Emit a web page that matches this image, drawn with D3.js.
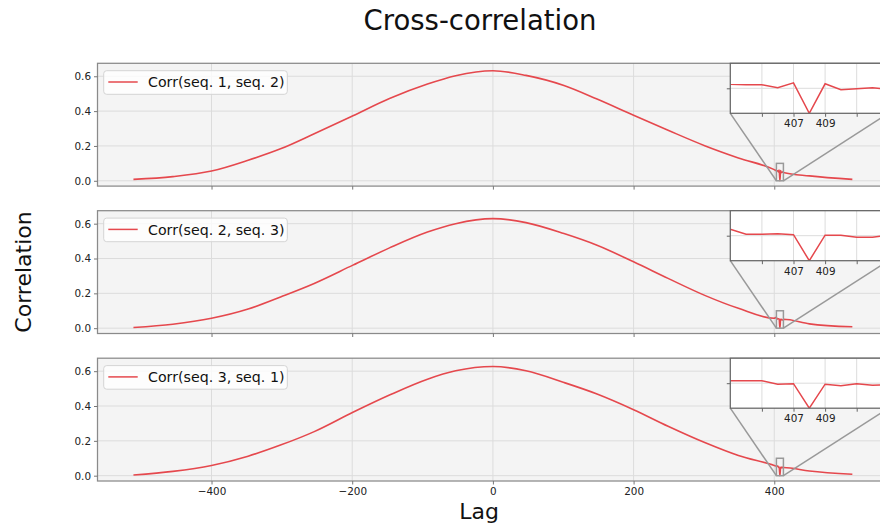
<!DOCTYPE html>
<html>
<head>
<meta charset="utf-8">
<script src="https://cdn.jsdelivr.net/npm/d3@7"></script>
<style>
  body { margin: 0; background: #fff; }
  svg { display: block; font-family: "DejaVu Sans", sans-serif; }
</style>
</head>
<body>
<svg width="880" height="527"></svg>
<script>
// lags (dense around the zoomed window 403..413)
var lags = [-511, -455, -400, -348, -301, -254, -199, -147, -93, -53,
            0, 47, 101, 148, 200, 249, 302, 349, 400,
            403, 404, 405, 406, 407, 408, 409, 410, 411, 412, 413,
            450, 511];

var corr12 = [0.008, 0.024, 0.056, 0.118, 0.185, 0.270, 0.373, 0.472, 0.555, 0.603,
              0.632, 0.605, 0.547, 0.469, 0.376, 0.290, 0.200, 0.131, 0.064,
              0.058, 0.057, 0.057, 0.051, 0.061, 0.000, 0.059, 0.047, 0.049, 0.051, 0.048,
              0.028, 0.008];
var corr23 = [0.004, 0.023, 0.057, 0.110, 0.181, 0.257, 0.362, 0.461, 0.552, 0.600,
              0.629, 0.606, 0.543, 0.476, 0.381, 0.286, 0.187, 0.114, 0.057,
              0.063, 0.053, 0.053, 0.054, 0.052, 0.000, 0.051, 0.051, 0.047, 0.047, 0.051,
              0.025, 0.008];
var corr31 = [0.004, 0.025, 0.059, 0.112, 0.177, 0.253, 0.364, 0.463, 0.554, 0.602,
              0.627, 0.602, 0.535, 0.469, 0.379, 0.284, 0.189, 0.116, 0.059,
              0.055, 0.055, 0.055, 0.048, 0.049, 0.000, 0.048, 0.045, 0.049, 0.046, 0.047,
              0.027, 0.008];

var labels = ["Corr(seq. 1, seq. 2)", "Corr(seq. 2, seq. 3)", "Corr(seq. 3, seq. 1)"];
var series = [corr12, corr23, corr31];

var xTicks = [-400, -200, 0, 200, 400];
var yTicks = [0, 0.2, 0.4, 0.6];
var insetRange = [403, 413];
var insetY = [0, 0.1];
var insetTicks = [405, 407, 409, 411];
var insetLabels = [407, 409];

var svg = d3.select("svg");
var red = "#e5484d";
var tickFont = 10.4;

var tops = [63.3, 210.7, 358.2], ph = 122.8;
var x = d3.scaleLinear().domain([-562.1, 562.1]).range([97.5, 888.3]);

svg.append("text")
    .attr("x", 480).attr("y", 30)
    .attr("text-anchor", "middle")
    .attr("font-size", 27.5)
    .attr("fill", "#111")
    .text("Cross-correlation");

svg.append("text")
    .attr("x", 479).attr("y", 519)
    .attr("text-anchor", "middle")
    .attr("font-size", 22)
    .attr("fill", "#111")
    .text("Lag");

svg.append("text")
    .attr("transform", "translate(31,272) rotate(-90)")
    .attr("text-anchor", "middle")
    .attr("font-size", 22)
    .attr("fill", "#111")
    .text("Correlation");

series.forEach(function(vals, i) {
  var top = tops[i];
  var y = d3.scaleLinear().domain([-0.0305, 0.6745]).range([top + ph, top]);
  var data = lags.map(function(l, j) { return { lag: l, v: vals[j] }; });
  var g = svg.append("g");

  g.append("rect")
      .attr("x", x.range()[0]).attr("y", top)
      .attr("width", x.range()[1] - x.range()[0]).attr("height", ph)
      .attr("fill", "#f4f4f4");

  g.selectAll(".vg").data(xTicks).enter().append("line")
      .attr("x1", function(d) { return x(d); }).attr("x2", function(d) { return x(d); })
      .attr("y1", top).attr("y2", top + ph)
      .attr("stroke", "#dcdcdc").attr("stroke-width", 1);
  g.selectAll(".hg").data(yTicks).enter().append("line")
      .attr("x1", x.range()[0]).attr("x2", x.range()[1])
      .attr("y1", function(d) { return y(d); }).attr("y2", function(d) { return y(d); })
      .attr("stroke", "#dcdcdc").attr("stroke-width", 1);

  var line = d3.line()
      .curve(d3.curveMonotoneX)
      .x(function(d) { return x(d.lag); })
      .y(function(d) { return y(d.v); });

  g.append("path")
      .datum(data)
      .attr("d", line)
      .attr("fill", "none")
      .attr("stroke", red)
      .attr("stroke-width", 1.6);

  g.append("rect")
      .attr("x", x.range()[0]).attr("y", top)
      .attr("width", x.range()[1] - x.range()[0]).attr("height", ph)
      .attr("fill", "none").attr("stroke", "#8a8a8a").attr("stroke-width", 1.25);

  var ya = g.append("g")
      .attr("transform", "translate(" + x.range()[0] + ",0)")
      .call(d3.axisLeft(y).tickValues(yTicks).tickFormat(d3.format(".1f")).tickSize(3.5).tickPadding(3));
  var xa = g.append("g")
      .attr("transform", "translate(0," + (top + ph) + ")")
      .call(d3.axisBottom(x).tickValues(xTicks).tickSize(3.5).tickPadding(3)
        .tickFormat(i === 2 ? d3.format("d") : ""));
  [ya, xa].forEach(function(a) {
    a.select(".domain").remove();
    a.selectAll(".tick line").attr("stroke", "#777");
    a.selectAll(".tick text").attr("font-size", tickFont).attr("fill", "#222")
      .attr("font-family", "DejaVu Sans");
  });

  // legend
  var lg = g.append("g");
  lg.append("rect")
      .attr("x", 103.7).attr("y", top + 7.4)
      .attr("width", 183.6).attr("height", 23.6).attr("rx", 3)
      .attr("fill", "#fff").attr("fill-opacity", 0.8)
      .attr("stroke", "#d4d4d4");
  lg.append("line")
      .attr("x1", 108.3).attr("x2", 137.7)
      .attr("y1", top + 18.7).attr("y2", top + 18.7)
      .attr("stroke", red).attr("stroke-width", 1.5);
  lg.append("text")
      .attr("x", 148).attr("y", top + 24)
      .attr("font-size", 14.2).attr("fill", "#111")
      .text(labels[i]);

  // zoom window marker and connectors
  var ix = d3.scaleLinear().domain(insetRange).range([730.3, 888.3]);
  var iy = d3.scaleLinear().domain(insetY).range([top + 50, top]);

  g.append("rect")
      .attr("x", x(insetRange[0])).attr("y", y(insetY[1]))
      .attr("width", x(insetRange[1]) - x(insetRange[0]))
      .attr("height", y(insetY[0]) - y(insetY[1]))
      .attr("fill", "none").attr("stroke", "#999").attr("stroke-width", 1.5);
  g.append("line")
      .attr("x1", x(insetRange[0])).attr("y1", y(insetY[0]))
      .attr("x2", ix.range()[0]).attr("y2", iy.range()[0])
      .attr("stroke", "#999").attr("stroke-width", 1.5);
  g.append("line")
      .attr("x1", x(insetRange[1])).attr("y1", y(insetY[0]))
      .attr("x2", ix.range()[1]).attr("y2", iy.range()[0])
      .attr("stroke", "#999").attr("stroke-width", 1.5);

  // inset
  var ig = g.append("g");
  var cid = "clip" + i;
  ig.append("clipPath").attr("id", cid).append("rect")
      .attr("x", ix.range()[0]).attr("y", top)
      .attr("width", ix.range()[1] - ix.range()[0]).attr("height", 50);
  ig.append("rect")
      .attr("x", ix.range()[0]).attr("y", top)
      .attr("width", ix.range()[1] - ix.range()[0]).attr("height", 50)
      .attr("fill", "#fff");
  ig.selectAll(".ivg").data(insetTicks).enter().append("line")
      .attr("x1", function(d) { return ix(d); }).attr("x2", function(d) { return ix(d); })
      .attr("y1", top).attr("y2", top + 50)
      .attr("stroke", "#dcdcdc");
  ig.append("line")
      .attr("x1", ix.range()[0]).attr("x2", ix.range()[1])
      .attr("y1", iy(0.05)).attr("y2", iy(0.05))
      .attr("stroke", "#dcdcdc");
  var iline = d3.line()
      .x(function(d) { return ix(d.lag); })
      .y(function(d) { return iy(d.v); });
  ig.append("path")
      .datum(data)
      .attr("clip-path", "url(#" + cid + ")")
      .attr("d", iline)
      .attr("fill", "none").attr("stroke", red).attr("stroke-width", 1.5);
  ig.append("rect")
      .attr("x", ix.range()[0]).attr("y", top)
      .attr("width", ix.range()[1] - ix.range()[0]).attr("height", 50)
      .attr("fill", "none").attr("stroke", "#666").attr("stroke-width", 1.25);
  var ixa = ig.append("g")
      .attr("transform", "translate(0," + (top + 50) + ")")
      .call(d3.axisBottom(ix).tickValues(insetTicks).tickSize(3.5).tickPadding(3)
        .tickFormat(function(d) { return insetLabels.indexOf(d) >= 0 ? d : ""; }));
  var iya = ig.append("g")
      .attr("transform", "translate(" + ix.range()[0] + ",0)")
      .call(d3.axisLeft(iy).tickValues([0.05]).tickSize(3.5).tickFormat(""));
  [ixa, iya].forEach(function(a) {
    a.select(".domain").remove();
    a.selectAll(".tick line").attr("stroke", "#666");
    a.selectAll(".tick text").attr("font-size", tickFont).attr("fill", "#222")
      .attr("font-family", "DejaVu Sans");
  });
});
</script>
</body>
</html>
